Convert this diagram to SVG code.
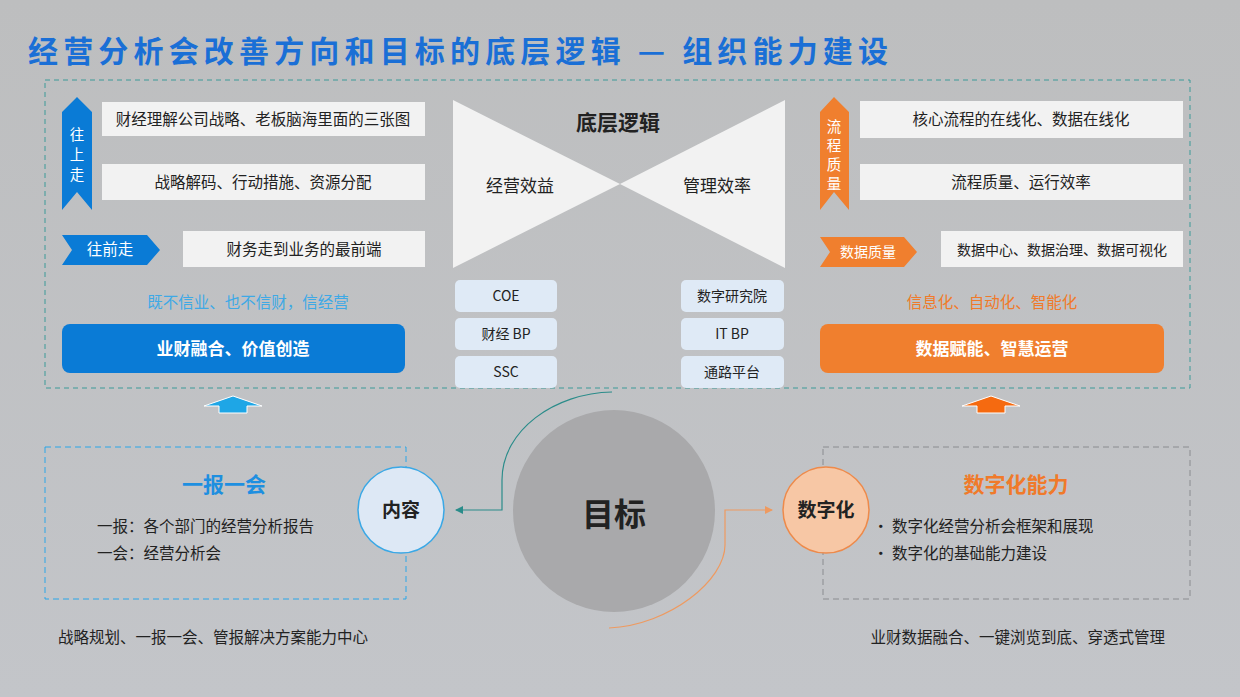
<svg xmlns="http://www.w3.org/2000/svg" width="1240" height="697" viewBox="0 0 1240 697">
<defs>
<style>
text{font-family:"Noto Sans CJK SC","Liberation Sans",sans-serif;fill:#222}
.w{fill:#f2f2f2}
.t15{font-size:15.5px}
.v{font-size:14.5px;fill:#fff}
.c{text-anchor:middle}
.sb{fill:#dfeaf6}
</style>
<linearGradient id="bg" x1="0" y1="0" x2="0" y2="1"><stop offset="0" stop-color="#bdbebf"/><stop offset="1" stop-color="#c3c5c9"/></linearGradient>
<marker id="at" markerWidth="8" markerHeight="8" refX="7" refY="4" orient="auto" markerUnits="userSpaceOnUse"><path d="M0,0L8,4L0,8z" fill="#2a8c8a"/></marker>
<marker id="ao" markerWidth="8" markerHeight="8" refX="7" refY="4" orient="auto" markerUnits="userSpaceOnUse"><path d="M0,0L8,4L0,8z" fill="#ee9a60"/></marker>
</defs>
<rect width="1240" height="697" fill="url(#bg)"/>
<text x="28" y="62" textLength="860" lengthAdjust="spacing" style="font-size:30px;font-weight:bold;fill:#1a6fd6">经营分析会改善方向和目标的底层逻辑 — 组织能力建设</text>
<rect x="45" y="80" width="1145" height="308" fill="none" stroke="#3d9a98" stroke-dasharray="5,4"/>
<g id="left">
<path d="M62,112L77,97L92,112V210L77,192L62,210Z" fill="#0a7bd6"/>
<text x="77" y="140" class="c v">往</text><text x="77" y="160" class="c v">上</text><text x="77" y="180" class="c v">走</text>
<rect x="102" y="102" width="323" height="34" class="w"/><text x="263" y="125" class="c t15">财经理解公司战略、老板脑海里面的三张图</text>
<rect x="102" y="164" width="323" height="36" class="w"/><text x="263" y="188" class="c t15">战略解码、行动措施、资源分配</text>
<path d="M62,235H147L160,250L147,265H62L72,250Z" fill="#0a7bd6"/><text x="110" y="255" class="c t15" style="fill:#fff">往前走</text>
<rect x="183" y="231" width="242" height="36" class="w"/><text x="304" y="255" class="c t15">财务走到业务的最前端</text>
<text x="248" y="308" class="c t15" style="fill:#3ea9e6">既不信业、也不信财，信经营</text>
<rect x="62" y="324" width="343" height="49" rx="8" fill="#0a7bd6"/><text x="233" y="355" class="c" style="font-size:17px;font-weight:bold;fill:#fff">业财融合、价值创造</text>
</g>
<g id="center">
<path d="M453,100L620,184L453,268Z M785,100L620,184L785,268Z" class="w"/>
<text x="618" y="130" class="c" style="font-size:21px;font-weight:bold">底层逻辑</text>
<text x="520" y="192" class="c" style="font-size:17px">经营效益</text>
<text x="717" y="192" class="c" style="font-size:17px">管理效率</text>
<rect x="455" y="280" width="102" height="32" rx="5" class="sb"/><text x="506" y="301" class="c" style="font-size:14px">COE</text>
<rect x="455" y="318" width="102" height="32" rx="5" class="sb"/><text x="506" y="339" class="c" style="font-size:14px">财经 BP</text>
<rect x="455" y="356" width="102" height="32" rx="5" class="sb"/><text x="506" y="377" class="c" style="font-size:14px">SSC</text>
<rect x="681" y="280" width="103" height="32" rx="5" class="sb"/><text x="732" y="301" class="c" style="font-size:14px">数字研究院</text>
<rect x="681" y="318" width="103" height="32" rx="5" class="sb"/><text x="732" y="339" class="c" style="font-size:14px">IT BP</text>
<rect x="681" y="356" width="103" height="32" rx="5" class="sb"/><text x="732" y="377" class="c" style="font-size:14px">通路平台</text>
</g>
<g id="right">
<path d="M820,112L834,97L849,112V210L834,192L820,210Z" fill="#f07f2e"/>
<text x="834" y="132" class="c v">流</text><text x="834" y="151" class="c v">程</text><text x="834" y="170" class="c v">质</text><text x="834" y="189" class="c v">量</text>
<rect x="860" y="101" width="323" height="37" class="w"/><text x="1021" y="125" class="c t15">核心流程的在线化、数据在线化</text>
<rect x="860" y="164" width="323" height="36" class="w"/><text x="1021" y="188" class="c t15">流程质量、运行效率</text>
<path d="M820,237H904L917,252L904,267H820L830,252Z" fill="#f07f2e"/><text x="868" y="257" class="c" style="font-size:14px;fill:#fff">数据质量</text>
<rect x="941" y="231" width="242" height="36" class="w"/><text x="1062" y="255" class="c" style="font-size:14px">数据中心、数据治理、数据可视化</text>
<text x="992" y="308" class="c t15" style="fill:#f07a2a">信息化、自动化、智能化</text>
<rect x="820" y="324" width="344" height="49" rx="8" fill="#f07f2e"/><text x="992" y="355" class="c" style="font-size:17px;font-weight:bold;fill:#fff">数据赋能、智慧运营</text>
</g>
<g id="uparrows">
<path d="M204,406L233,396L262,406H247V413H219V406Z" fill="#1ea6e6" stroke="#fff" stroke-width="1"/>
<path d="M962,406L991,396L1020,406H1005V413H977V406Z" fill="#f56a10" stroke="#fff" stroke-width="1"/>
</g>
<g id="report">
<rect x="45" y="447" width="361" height="152" fill="none" stroke="#2aa6e8" stroke-dasharray="6,4"/>
<text x="224" y="492" class="c" style="font-size:21px;font-weight:bold;fill:#1e8fe0">一报一会</text>
<text x="97" y="532" class="t15">一报：各个部门的经营分析报告</text>
<text x="97" y="559" class="t15">一会：经营分析会</text>
</g>
<g id="digital">
<rect x="823" y="447" width="367" height="152" fill="none" stroke="#8a8c90" stroke-dasharray="6,4"/>
<text x="1016" y="492" class="c" style="font-size:21px;font-weight:bold;fill:#f07a2a">数字化能力</text>
<text x="873" y="532" class="t15">•  数字化经营分析会框架和展现</text>
<text x="873" y="559" class="t15">•  数字化的基础能力建设</text>
</g>
<g id="goal"><circle cx="614" cy="511" r="101" fill="#a9a9ab"/><text x="614" y="526" class="c" style="font-size:32px;font-weight:bold">目标</text></g>
<g id="neirong"><circle cx="401" cy="510" r="43" fill="#dde8f5" stroke="#3aa8e6" stroke-width="1.5"/><text x="401" y="517" class="c" style="font-size:19px;font-weight:bold">内容</text></g>
<g id="shuzihua"><circle cx="826" cy="510" r="43" fill="#f7c7a5" stroke="#ee8a4a" stroke-width="1.5"/><text x="826" y="517" class="c" style="font-size:19px;font-weight:bold">数字化</text></g>
<g id="connectors" fill="none">
<path d="M612,392C555,393 502,430 502,480V510H456" stroke="#2a8c8a" stroke-width="1.2" marker-end="url(#at)"/>
<path d="M609,628C670,625 725,580 725,545V510H772" stroke="#ee9a60" stroke-width="1.2" marker-end="url(#ao)"/>
</g>
<text x="58" y="643" class="t15">战略规划、一报一会、管报解决方案能力中心</text>
<text x="1165" y="643" class="t15" text-anchor="end">业财数据融合、一键浏览到底、穿透式管理</text>
</svg>
